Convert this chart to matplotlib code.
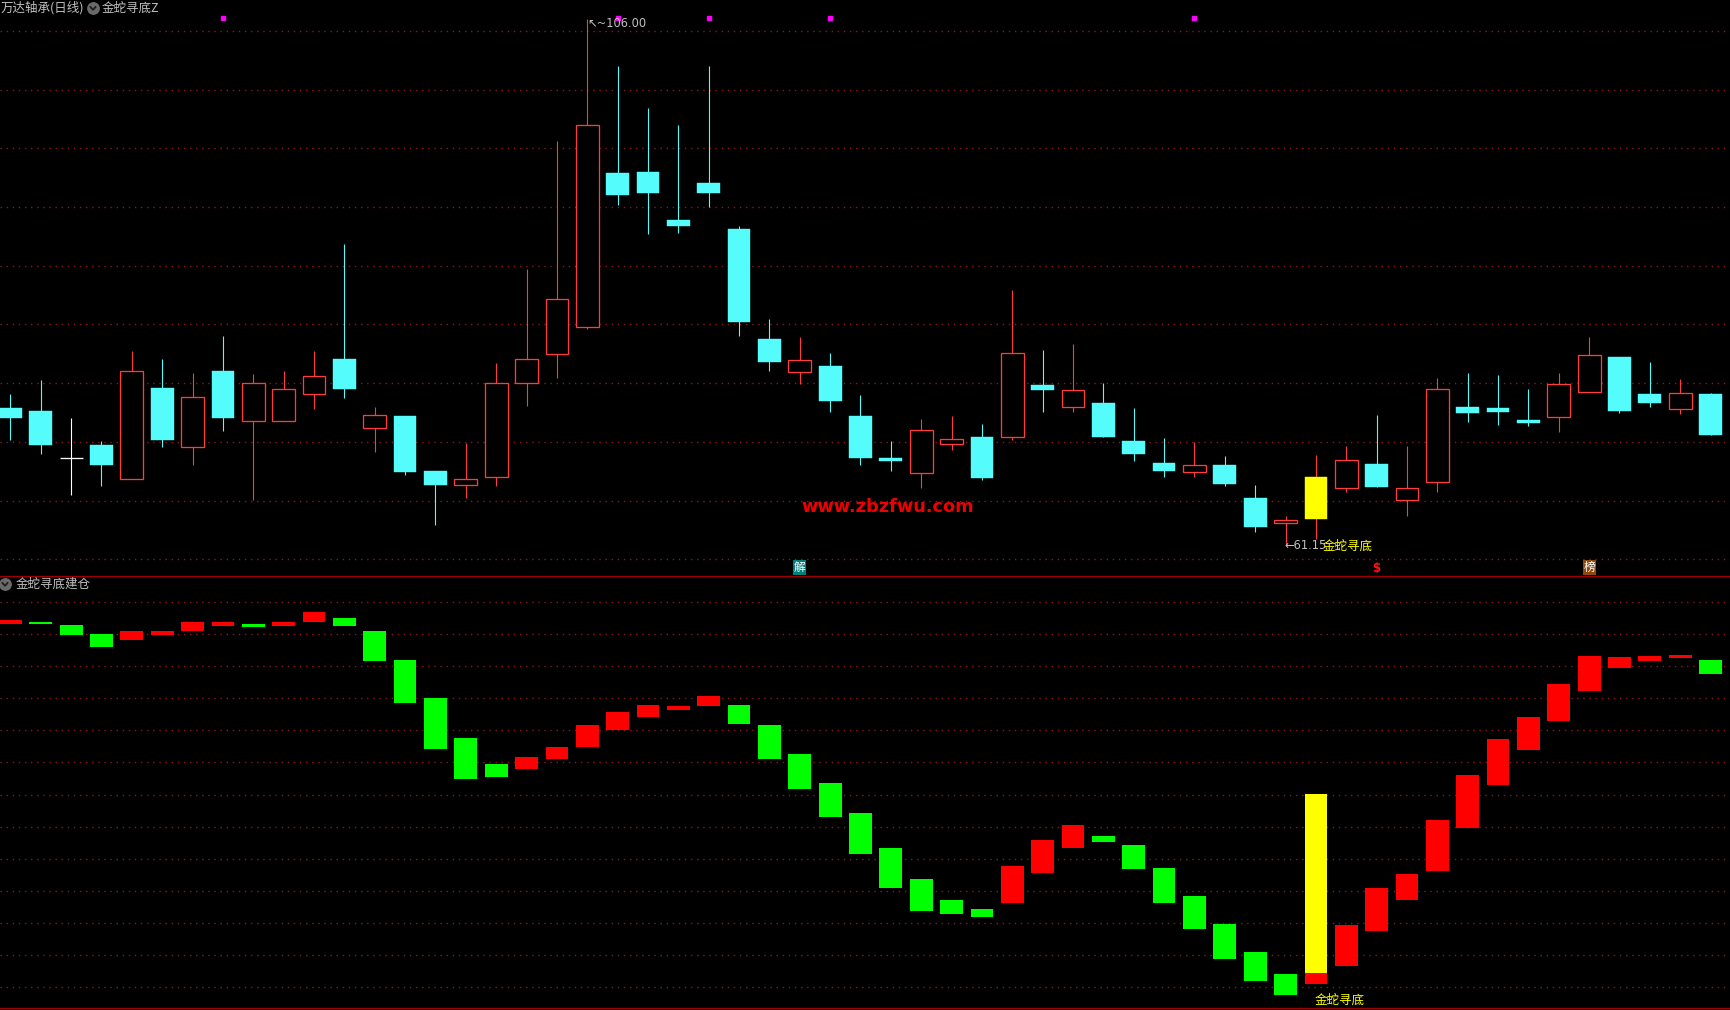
import matplotlib
matplotlib.use('Agg')
import matplotlib.pyplot as plt
import numpy as np

plt.rcParams['font.family'] = ['Noto Sans CJK SC', 'DejaVu Sans']

# ---------------- data ----------------
stock_title = "万达轴承(日线)"
ind_title_top = "金蛇寻底Z"
ind_title_bottom = "金蛇寻底建仓"
signal_text = "金蛇寻底"
watermark = "www.zbzfwu.com"

opens = [72.89, 72.63, 68.60, 69.74, 66.81, 74.59, 69.55, 76.04, 71.75, 71.75,
         74.05, 77.04, 71.15, 72.19, 67.53, 66.30, 66.99, 75.00, 77.45, 79.75,
         92.89, 92.98, 88.89, 92.04, 88.13, 78.78, 75.94, 76.48, 72.19, 68.63,
         67.37, 69.80, 70.43, 70.40, 74.84, 73.01, 73.33, 70.08, 68.21, 67.47,
         68.04, 65.23, 63.07, 63.47, 66.05, 68.13, 65.03, 66.56, 72.95, 72.89,
         71.87, 72.15, 74.28, 77.23, 74.08, 72.83, 74.08]
highs = [74.08, 75.28, 72.03, 70.08, 77.74, 77.04, 75.88, 79.03, 75.78, 76.04,
         77.74, 86.84, 72.98, 72.19, 67.53, 69.89, 76.73, 84.73, 95.63, 106.00,
         102.02, 98.43, 96.98, 102.02, 88.35, 80.48, 78.93, 77.58, 73.99, 70.08,
         71.94, 72.19, 71.53, 82.93, 77.83, 78.33, 75.03, 72.89, 70.34, 70.00,
         68.81, 66.34, 63.70, 68.89, 69.66, 72.30, 69.66, 75.45, 75.87, 75.70,
         74.51, 75.87, 78.94, 77.23, 76.81, 75.36, 74.17]
lows = [70.14, 69.01, 65.51, 66.27, 66.81, 69.61, 68.07, 70.93, 65.04, 71.75,
        72.82, 73.77, 69.17, 67.22, 62.96, 65.26, 66.27, 73.07, 75.47, 79.65,
        90.21, 87.72, 87.78, 89.99, 79.06, 76.07, 74.96, 72.57, 68.07, 67.56,
        66.11, 69.33, 66.77, 70.14, 72.57, 72.57, 70.46, 68.41, 67.05, 67.05,
        66.28, 62.37, 61.15, 61.77, 65.77, 66.20, 63.73, 65.77, 71.70, 71.44,
        71.36, 70.85, 74.28, 72.47, 73.00, 72.41, 70.62]
closes = [72.03, 69.77, 68.60, 68.07, 76.04, 70.14, 73.80, 72.07, 75.00, 74.49,
          75.59, 74.52, 72.26, 67.47, 66.36, 66.81, 75.00, 77.04, 82.15, 96.95,
          91.06, 91.22, 88.41, 91.16, 80.22, 76.82, 76.95, 73.52, 68.66, 68.41,
          71.00, 70.21, 66.96, 77.55, 74.46, 74.43, 70.46, 69.01, 67.56, 68.04,
          66.45, 62.79, 63.33, 67.01, 68.44, 66.20, 66.05, 74.48, 72.49, 72.58,
          71.64, 74.93, 77.40, 72.63, 73.35, 74.14, 70.62]

ind_open = [113.18, 113.70, 112.76, 109.96, 108.09, 109.65, 110.90, 112.56, 113.18, 112.56,
            113.70, 114.94, 110.90, 101.87, 90.04, 77.59, 69.50, 67.94, 71.06, 74.79,
            80.08, 84.13, 86.31, 87.55, 87.86, 81.64, 72.61, 63.59, 54.25, 43.36,
            33.71, 27.17, 24.37, 26.24, 35.57, 43.36, 47.09, 44.29, 37.13, 28.41,
            19.70, 10.98, 4.14, 1.02, 6.63, 17.52, 27.17, 36.20, 49.58, 62.96,
            73.86, 82.88, 92.22, 99.38, 101.56, 102.49, 101.87]
ind_close = [114.32, 113.18, 109.65, 105.92, 110.90, 110.90, 113.70, 113.70, 112.14, 113.70,
             116.81, 112.45, 101.56, 88.49, 74.17, 64.83, 65.45, 71.68, 74.79, 81.64,
             85.69, 87.86, 87.55, 90.66, 81.95, 71.06, 61.72, 53.00, 41.49, 30.90,
             23.75, 22.81, 21.88, 37.75, 45.84, 50.51, 45.22, 36.82, 26.24, 18.14,
             8.81, 1.96, -2.40, 60.16, 19.39, 30.90, 35.26, 52.07, 66.08, 77.28,
             84.13, 94.40, 103.11, 102.80, 103.11, 103.43, 97.51]

signal_bar = 43          # 金蛇寻底 signal bar
signal_ind_base = 4.45   # lower edge of yellow part in indicator panel
top_marks = [7, 20, 23, 27, 39]
badge_jie = 26
badge_dollar = 45
badge_bang = 52
high_idx, high_val = 19, 106.00
low_idx, low_val = 42, 61.15

price_grid = [105, 100, 95, 90, 85, 80, 75, 70, 65, 60]
ind_grid = [0, 10, 20, 30, 40, 50, 60, 70, 80, 90, 100, 110, 120]

# ---------------- style ----------------
W, H = 1730, 1010
BG = '#000000'
RED = '#ff3c3c'
CYAN = '#54fcfc'
YEL = '#ffff00'
GRIDC = '#8c1a1a'
TXT = '#c0c0c0'
px = 0.72  # 1 pixel in points at dpi 100

fig = plt.figure(figsize=(W / 100, H / 100), dpi=100, facecolor=BG)
split = 575
ax1 = fig.add_axes([0, (H - split) / H, 1, split / H], facecolor=BG)
ax2 = fig.add_axes([0, 0, 1, (H - split) / H], facecolor=BG)

n = len(opens)
x = np.arange(n)
xl = (-0.343, 56.64)
width = 0.75

for ax in (ax1, ax2):
    ax.set_xlim(*xl)
    for s in ax.spines.values():
        s.set_visible(False)
    ax.set_xticks([])
    ax.set_yticks([])

ax1.set_ylim(58.67, 107.63)
ax2.set_ylim(-7.07, 128.32)

for g in price_grid:
    ax1.axhline(g, color=GRIDC, lw=1.0, linestyle=(0, (1, 3.4)), zorder=0)
for g in ind_grid:
    ax2.axhline(g, color=GRIDC, lw=1.0, linestyle=(0, (1, 3.4)), zorder=0)

# ---------------- candles ----------------
o = np.array(opens); c = np.array(closes); h = np.array(highs); l = np.array(lows)
for i in range(n):
    if c[i] > o[i]:
        col = RED
    elif c[i] < o[i]:
        col = CYAN
    else:
        col = '#ffffff'
    ax1.vlines(x[i], l[i], h[i], color=col, lw=1.1 * px, zorder=2)
    lo_b, hi_b = min(o[i], c[i]), max(o[i], c[i])
    if i == signal_bar:
        ax1.bar(x[i], hi_b - lo_b, width=width, bottom=lo_b, facecolor=YEL,
                edgecolor=YEL, linewidth=0.3, zorder=3)
    elif col == RED:
        ax1.bar(x[i], hi_b - lo_b, width=width, bottom=lo_b, facecolor=BG,
                edgecolor=RED, linewidth=1.3 * px, zorder=3)
    elif col == '#ffffff':
        ax1.hlines(o[i], x[i] - width / 2, x[i] + width / 2, color=col, lw=1.3 * px, zorder=3)
    else:
        ax1.bar(x[i], max(hi_b - lo_b, 0.12), width=width, bottom=lo_b, facecolor=col,
                edgecolor=col, linewidth=0.3, zorder=3)

# top magenta signal squares
for t in top_marks:
    ax1.plot([t], [0.9695], marker='s', ms=2.6, color='#ff00ff', mec='#ff00ff',
             transform=ax1.get_xaxis_transform(), zorder=4)

# high / low labels
ax1.annotate('↖~106.00', xy=(high_idx, high_val), xytext=(0, -3), textcoords='offset points',
             ha='left', va='center', color=TXT, fontsize=8.3, family=['DejaVu Sans'], zorder=5)
ax1.annotate('←61.15', xy=(low_idx, low_val), xytext=(-1, 0), textcoords='offset points',
             ha='left', va='center', color=TXT, fontsize=8.3, family=['DejaVu Sans'], zorder=5)
ax1.annotate(signal_text, xy=(signal_bar, low_val), xytext=(5, 0), textcoords='offset points',
             ha='left', va='center', color=YEL, fontsize=9, zorder=6)

# watermark
ax1.text(801 / 30.36 - 0.343, 0.119, watermark, transform=ax1.get_xaxis_transform(),
         ha='left', va='center', color='#ee0000', fontsize=12.8, fontweight='heavy',
         family=['DejaVu Sans'], zorder=6)

# badges
ax1.text(badge_jie, 0.013, '解', transform=ax1.get_xaxis_transform(), ha='center', va='center',
         color='white', fontsize=8.5, zorder=6,
         bbox=dict(boxstyle='square,pad=0.05', facecolor='#00807a', edgecolor='none'))
ax1.text(badge_bang, 0.013, '榜', transform=ax1.get_xaxis_transform(), ha='center', va='center',
         color='white', fontsize=8.5, zorder=6,
         bbox=dict(boxstyle='square,pad=0.05', facecolor='#8b4a10', edgecolor='none'))
ax1.text(badge_dollar, 0.011, '$', transform=ax1.get_xaxis_transform(), ha='center', va='center',
         color='#ff1010', fontsize=8.5, fontweight='bold', family=['DejaVu Sans'], zorder=6)

# ---------------- indicator bars ----------------
io = np.array(ind_open); ic = np.array(ind_close)
for i in range(n):
    col = '#ff0000' if ic[i] >= io[i] else '#00ff00'
    lo_b, hi_b = min(io[i], ic[i]), max(io[i], ic[i])
    ax2.bar(x[i], hi_b - lo_b, width=width, bottom=lo_b, color=col, linewidth=0, zorder=3)
ax2.bar(signal_bar, ic[signal_bar] - signal_ind_base, width=width, bottom=signal_ind_base,
        color=YEL, linewidth=0, zorder=4)
ax2.text(signal_bar - 0.03, -4.0, signal_text, ha='left', va='center', color=YEL,
         fontsize=9, zorder=5)

# ---------------- frame lines / titles ----------------
fig.add_artist(plt.Line2D([0, 1], [1 - 575.5 / H, 1 - 575.5 / H], color='#a00000', lw=1.2 * px))
fig.add_artist(plt.Line2D([0, 1], [1 - 1008 / H, 1 - 1008 / H], color='#a00000', lw=1.2 * px))

fig.text(1 / W, 1 - 8 / H, stock_title, color=TXT, fontsize=9, ha='left', va='center')
fig.text(102 / W, 1 - 8 / H, ind_title_top, color=TXT, fontsize=9, ha='left', va='center')
fig.text(16 / W, 1 - 584 / H, ind_title_bottom, color=TXT, fontsize=9, ha='left', va='center')

for cx, cy in [(93, 8), (5, 584)]:
    fig.add_artist(plt.Line2D([cx / W], [1 - cy / H], marker='o', ms=8.2, color='#6a6a6a',
                              mec='#6a6a6a'))
    fig.add_artist(plt.Line2D([(cx - 2.5) / W, cx / W, (cx + 2.5) / W],
                              [1 - (cy - 1) / H, 1 - (cy + 1.8) / H, 1 - (cy - 1) / H],
                              color='#1e1e1e', lw=1.3))

fig.savefig('out.png', dpi=100, facecolor=BG)
